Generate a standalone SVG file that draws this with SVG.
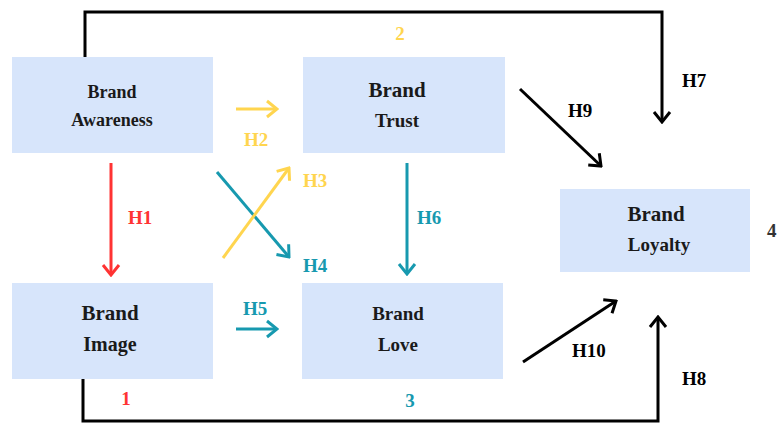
<svg xmlns="http://www.w3.org/2000/svg" width="777" height="423" viewBox="0 0 777 423">
  <style>
    .box { fill: #D7E5FB; }
    .nt { font-family: "Liberation Serif", "DejaVu Serif", "Times New Roman", serif; font-weight: bold; fill: #1a1a1a; text-anchor: middle; }
    .lbl { font-family: "Liberation Serif", "DejaVu Serif", "Times New Roman", serif; font-weight: bold; font-size: 19px; }
    .k { stroke: #000; }
    .y { stroke: #FFD54F; }
    .r { stroke: #FF3333; }
    .t { stroke: #1799AF; }
    .ln { fill: none; stroke-width: 3; }
    .fy { fill: #FFD54F; }
    .fr { fill: #FF3333; }
    .ft { fill: #1799AF; }
    .fk { fill: #000; }
  </style>
  <defs>
    <marker id="ak" markerUnits="userSpaceOnUse" viewBox="-12 -10 14 20" refX="0" refY="0" markerWidth="14" markerHeight="20" orient="auto">
      <path d="M-10,-8 L0,0 L-10,8" fill="none" stroke="#000" stroke-width="3"/>
    </marker>
    <marker id="ay" markerUnits="userSpaceOnUse" viewBox="-12 -10 14 20" refX="0" refY="0" markerWidth="14" markerHeight="20" orient="auto">
      <path d="M-10,-8 L0,0 L-10,8" fill="none" stroke="#FFD54F" stroke-width="3"/>
    </marker>
    <marker id="ar" markerUnits="userSpaceOnUse" viewBox="-12 -10 14 20" refX="0" refY="0" markerWidth="14" markerHeight="20" orient="auto">
      <path d="M-10,-8 L0,0 L-10,8" fill="none" stroke="#FF3333" stroke-width="3"/>
    </marker>
    <marker id="at" markerUnits="userSpaceOnUse" viewBox="-12 -10 14 20" refX="0" refY="0" markerWidth="14" markerHeight="20" orient="auto">
      <path d="M-10,-8 L0,0 L-10,8" fill="none" stroke="#1799AF" stroke-width="3"/>
    </marker>
  </defs>

  <rect width="777" height="423" fill="#fff"/>

  <!-- nodes -->
  <g id="awareness">
    <rect class="box" x="12" y="57" width="201" height="96"/>
    <text class="nt" x="112" y="98" font-size="18">Brand</text>
    <text class="nt" x="112" y="126" font-size="18">Awareness</text>
  </g>
  <g id="trust">
    <rect class="box" x="303" y="57" width="202" height="96"/>
    <text class="nt" x="397" y="97" font-size="21">Brand</text>
    <text class="nt" x="397" y="127" font-size="19">Trust</text>
  </g>
  <g id="image">
    <rect class="box" x="12" y="283" width="201" height="96"/>
    <text class="nt" x="110" y="320" font-size="21">Brand</text>
    <text class="nt" x="110" y="351" font-size="20">Image</text>
  </g>
  <g id="love">
    <rect class="box" x="302" y="283" width="201" height="96"/>
    <text class="nt" x="398" y="320" font-size="19">Brand</text>
    <text class="nt" x="398" y="351" font-size="19">Love</text>
  </g>
  <g id="loyalty">
    <rect class="box" x="560" y="189" width="190" height="83"/>
    <text class="nt" x="656" y="221" font-size="21">Brand</text>
    <text class="nt" x="659" y="251" font-size="19">Loyalty</text>
  </g>

  <!-- connectors -->
  <g id="connectors">
    <polyline class="ln k" points="85,57 85,12 662,12 662,122" marker-end="url(#ak)"/>
    <polyline class="ln k" points="83,379 83,421 658,421 658,317" marker-end="url(#ak)"/>
    <line class="ln k" x1="520" y1="89" x2="601" y2="166" marker-end="url(#ak)"/>
    <line class="ln k" x1="523" y1="362" x2="616" y2="301" marker-end="url(#ak)"/>
    <line class="ln r" x1="111" y1="163" x2="111" y2="275" marker-end="url(#ar)"/>
    <line class="ln y" x1="236" y1="109" x2="277" y2="109" marker-end="url(#ay)"/>
    <line class="ln t" x1="236" y1="329" x2="277" y2="329" marker-end="url(#at)"/>
    <line class="ln t" x1="407" y1="163" x2="407" y2="274" marker-end="url(#at)"/>
    <line class="ln t" x1="217" y1="172" x2="289" y2="257" marker-end="url(#at)"/>
    <line class="ln y" x1="223" y1="258" x2="289" y2="168" marker-end="url(#ay)"/>
  </g>

  <!-- labels -->
  <g id="labels">
    <text class="lbl fr" x="128" y="224">H1</text>
    <text class="lbl fy" x="244" y="146">H2</text>
    <text class="lbl fy" x="303" y="187">H3</text>
    <text class="lbl ft" x="303" y="272">H4</text>
    <text class="lbl ft" x="243" y="315">H5</text>
    <text class="lbl ft" x="417" y="224">H6</text>
    <text class="lbl fk" x="682" y="87">H7</text>
    <text class="lbl fk" x="682" y="385">H8</text>
    <text class="lbl fk" x="568" y="117">H9</text>
    <text class="lbl fk" x="572" y="357">H10</text>
    <text class="lbl fy" x="400" y="40" text-anchor="middle">2</text>
    <text class="lbl fr" x="126" y="405" text-anchor="middle">1</text>
    <text class="lbl ft" x="410" y="407" text-anchor="middle">3</text>
    <text class="lbl" x="767" y="237" fill="#333">4</text>
  </g>
</svg>
